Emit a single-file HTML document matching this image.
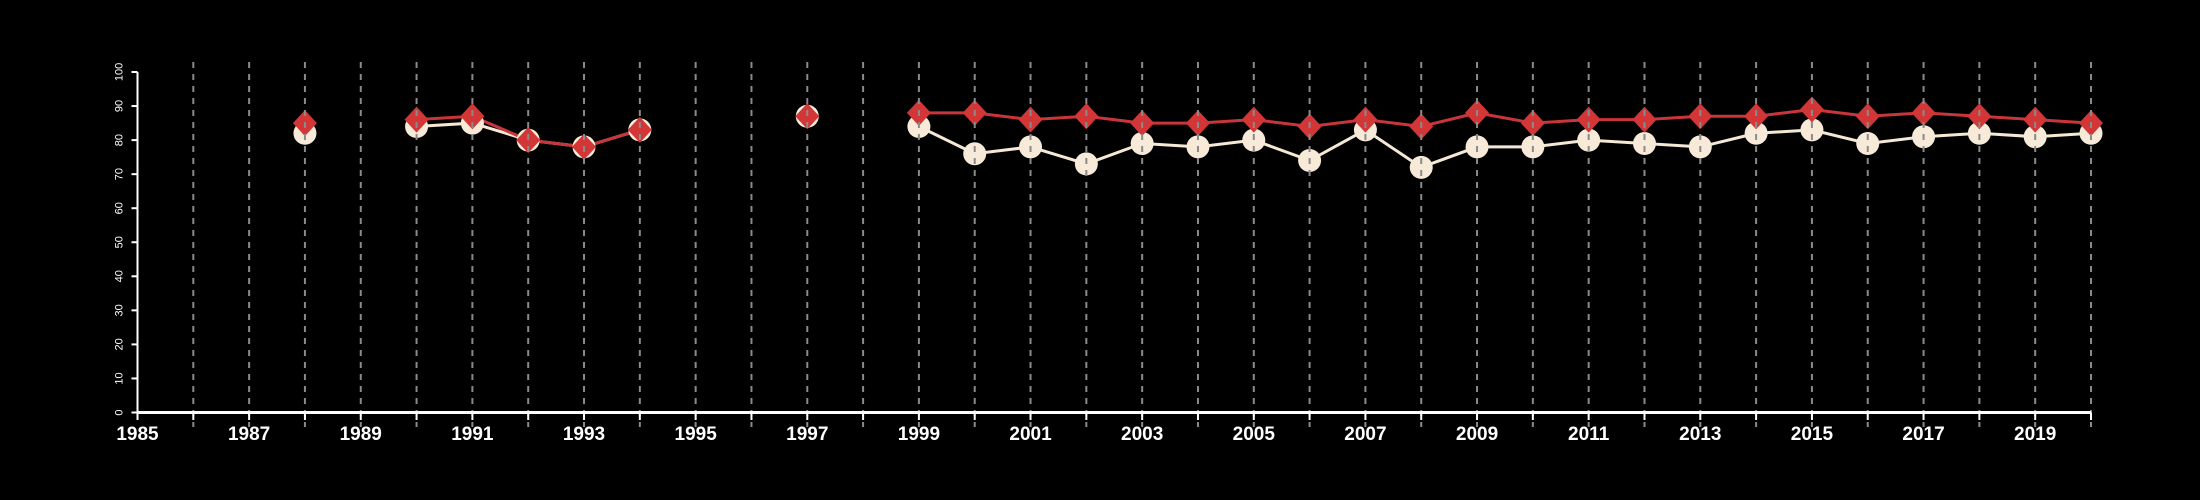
<!DOCTYPE html>
<html><head><meta charset="utf-8"><style>
html,body{margin:0;padding:0;background:#000;}
svg{display:block;}
text{font-family:"Liberation Sans",sans-serif;fill:#fff;}
</style></head><body>
<svg id="chart" width="2200" height="500" xmlns="http://www.w3.org/2000/svg">
<rect width="2200" height="500" fill="#000"/>
<g id="layer-lines"></g><g id="layer-marks"></g><g id="layer-grid"></g><g id="layer-axes"></g>
</svg>
<script>
const years = [1988,1990,1991,1992,1993,1994,1997,1999,2000,2001,2002,2003,2004,2005,2006,2007,2008,2009,2010,2011,2012,2013,2014,2015,2016,2017,2018,2019,2020];
const whiteSeries = [82,84,85,80,78,83,87,84,76,78,73,79,78,80,74,83,72,78,78,80,79,78,82,83,79,81,82,81,82];
const redSeries = [85,86,87,80,78,83,87,88,88,86,87,85,85,86,84,86,84,88,85,86,86,87,87,89,87,88,87,86,85];
const yTicks = [0,10,20,30,40,50,60,70,80,90,100];
const xLabelYears = [1985,1987,1989,1991,1993,1995,1997,1999,2001,2003,2005,2007,2009,2011,2013,2015,2017,2019];

const NS='http://www.w3.org/2000/svg';
const X0=137.5,X1=2091,Y0=412.5,Y1=72;
const xs=y=>X0+(y-1985)*(X1-X0)/35;
const ys=v=>Y0-v*(Y0-Y1)/100;
function el(tag,attrs,parent){const e=document.createElementNS(NS,tag);for(const k in attrs)e.setAttribute(k,attrs[k]);parent.appendChild(e);return e;}
const gL=document.getElementById('layer-lines'),gM=document.getElementById('layer-marks'),gG=document.getElementById('layer-grid'),gA=document.getElementById('layer-axes');

for(let y=1986;y<=2020;y++){
  const l=el('line',{x1:xs(y),x2:xs(y),y1:62,y2:427,stroke:'#8a8a8a','stroke-width':2,'stroke-dasharray':'6,6'},gG);
  
  
}
function drawLine(vals,color,name){
  let seg=[];
  const flush=()=>{if(seg.length>1){const p=el('polyline',{points:seg.join(' '),fill:'none',stroke:color,'stroke-width':3},gL);
    
    }seg=[];};
  for(let i=0;i<years.length;i++){
    if(i>0&&years[i]-years[i-1]>1)flush();
    seg.push(xs(years[i])+','+ys(vals[i]));
  }
  flush();
}
drawLine(whiteSeries,'#f5e8d5','white-series-line');
drawLine(redSeries,'#c8353a','red-series-line');
for(let i=0;i<years.length;i++){
  const cx=xs(years[i]);
  const c=el('circle',{cx:cx,cy:ys(whiteSeries[i]),r:11.5,fill:'#f7ead8'},gM);
  
  
}
for(let i=0;i<years.length;i++){
  const cx=xs(years[i]),cy=ys(redSeries[i]);
  const d=el('polygon',{points:`${cx},${cy-13} ${cx+12},${cy} ${cx},${cy+13} ${cx-12},${cy}`,fill:'#d33636'},gM);
  
  
}
const ax=el('line',{x1:X0,x2:X1,y1:Y0,y2:Y0,stroke:'#fff','stroke-width':3},gA);


const ay=el('line',{x1:X0,x2:X0,y1:Y0,y2:Y1,stroke:'#fff','stroke-width':2},gA);


for(let y=1985;y<=2020;y++){
  const t=el('line',{x1:xs(y),x2:xs(y),y1:Y0,y2:420,stroke:'#fff','stroke-width':2},gA);
  
  
}
xLabelYears.forEach(y=>{
  const t=el('text',{x:xs(y),y:440,'text-anchor':'middle','font-size':19,'font-weight':'bold'},gA);
  t.textContent=y;
  
  
});
yTicks.forEach(v=>{
  const t=el('line',{x1:X0-6,x2:X0,y1:ys(v),y2:ys(v),stroke:'#fff','stroke-width':2},gA);
  
  
  const lab=el('text',{x:0,y:0,'text-anchor':'middle','font-size':11,transform:`translate(${X0-15},${ys(v)}) rotate(-90)`},gA);
  lab.textContent=v;
  
  
});
</script>
</body></html>
